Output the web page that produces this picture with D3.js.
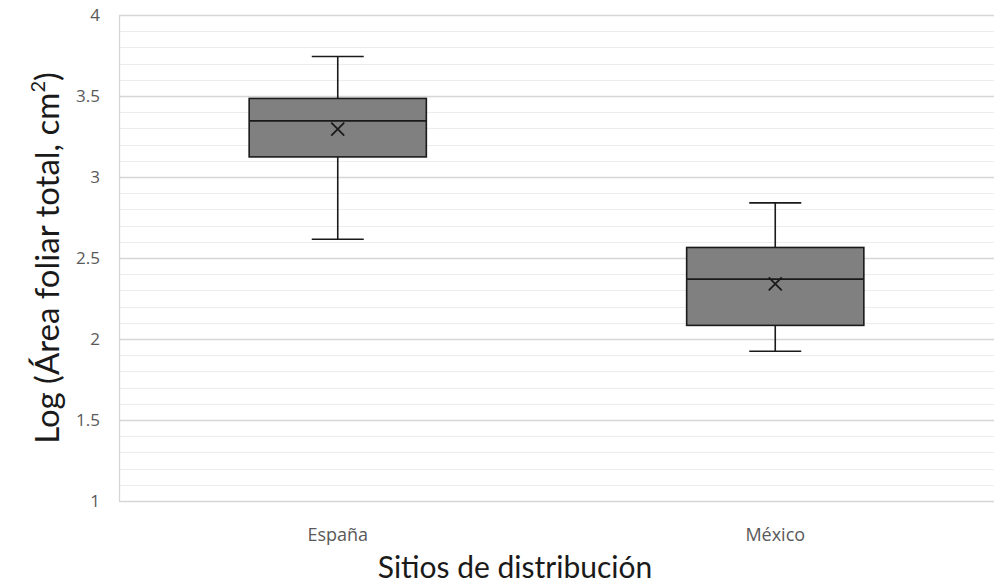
<!DOCTYPE html>
<html>
<head>
<meta charset="utf-8">
<script src="https://cdn.jsdelivr.net/npm/d3@7"></script>
<style>
  body { margin: 0; background: #fff; }
  svg { display: block; font-family: Lato, 'Liberation Sans', sans-serif; }
</style>
</head>
<body>
<div id="chart"></div>
<script>
// Data
const sites = ['España', 'México'];
const whiskerLow = [2.616, 1.924];
const q1 = [3.124, 2.084];
const median = [3.347, 2.37];
const q3 = [3.485, 2.565];
const whiskerHigh = [3.744, 2.84];
const means = [3.296, 2.34];
const yTicks = [1, 1.5, 2, 2.5, 3, 3.5, 4];

const width = 994, height = 585;
const margins = { top: 15, right: 0, bottom: 84, left: 119 };

const svg = d3.select('#chart').append('svg')
    .attr('width', width)
    .attr('height', height);

const plotWidth = width - margins.left - margins.right;
const plotHeight = height - margins.top - margins.bottom;

const plotArea = svg.append('g')
    .attr('transform', `translate(${margins.left},${margins.top})`);

const xScale = d3.scaleBand()
    .domain(sites)
    .range([0, plotWidth]);

const yScale = d3.scaleLinear()
    .domain([1, 4])
    .range([plotHeight, 0]);

// minor gridlines every 0.1
const minor = d3.range(10, 41).map(d => d / 10).filter(d => Math.abs(d * 2 - Math.round(d * 2)) > 1e-6);
plotArea.append('g')
    .selectAll('line')
    .data(minor)
    .join('line')
    .attr('x1', 0)
    .attr('x2', plotWidth)
    .attr('y1', d => Math.round(yScale(d)) + 0.5)
    .attr('y2', d => Math.round(yScale(d)) + 0.5)
    .style('stroke', '#ededed')
    .style('stroke-width', '1px');

// major gridlines
plotArea.append('g')
    .selectAll('line')
    .data(yTicks)
    .join('line')
    .attr('x1', 0)
    .attr('x2', plotWidth)
    .attr('y1', d => Math.round(yScale(d)) + 0.5)
    .attr('y2', d => Math.round(yScale(d)) + 0.5)
    .style('stroke', '#d6d6d6')
    .style('stroke-width', '1.3px');

// left axis line
plotArea.append('line')
    .attr('x1', 0.5).attr('x2', 0.5)
    .attr('y1', 0).attr('y2', plotHeight)
    .style('stroke', '#d6d6d6')
    .style('stroke-width', '1.3px');

// y axis tick labels
const yAxis = plotArea.append('g')
    .call(d3.axisLeft(yScale)
        .tickValues(yTicks)
        .tickSize(0)
        .tickPadding(19)
        .tickFormat(d => d));
yAxis.select('.domain').remove();
yAxis.selectAll('text')
    .style('font-size', '17px')
    .style('font-family', "'Open Sans', sans-serif")
    .style('fill', '#595959');

// x axis labels
const xAxis = plotArea.append('g')
    .attr('transform', `translate(0,${plotHeight})`)
    .call(d3.axisBottom(xScale).tickSize(0).tickPadding(27));
xAxis.select('.domain').remove();
xAxis.selectAll('text')
    .style('font-size', '18px')
    .style('font-family', "'Open Sans', sans-serif")
    .style('fill', '#595959');

// boxes
const boxW = xScale.bandwidth() * 0.405;
const capW = 52;
const boxes = plotArea.selectAll('.box')
    .data(sites.map((s, i) => ({ s, i })))
    .join('g')
    .attr('class', 'box')
    .attr('transform', d => `translate(${xScale(d.s) + xScale.bandwidth() / 2},0)`);

boxes.append('line')
    .attr('x1', 0).attr('x2', 0)
    .attr('y1', d => yScale(whiskerLow[d.i]))
    .attr('y2', d => yScale(whiskerHigh[d.i]))
    .style('stroke', '#1a1a1a').style('stroke-width', '1.6px');

boxes.selectAll('.cap')
    .data(d => [whiskerLow[d.i], whiskerHigh[d.i]])
    .join('line')
    .attr('class', 'cap')
    .attr('x1', -capW / 2).attr('x2', capW / 2)
    .attr('y1', d => yScale(d)).attr('y2', d => yScale(d))
    .style('stroke', '#1a1a1a').style('stroke-width', '1.6px');

boxes.append('rect')
    .attr('x', -boxW / 2)
    .attr('width', boxW)
    .attr('y', d => yScale(q3[d.i]))
    .attr('height', d => yScale(q1[d.i]) - yScale(q3[d.i]))
    .style('fill', '#808080')
    .style('stroke', '#1a1a1a').style('stroke-width', '1.6px');

boxes.append('line')
    .attr('x1', -boxW / 2).attr('x2', boxW / 2)
    .attr('y1', d => yScale(median[d.i])).attr('y2', d => yScale(median[d.i]))
    .style('stroke', '#1a1a1a').style('stroke-width', '1.8px');

// mean markers
boxes.append('path')
    .attr('d', d => {
        const y = yScale(means[d.i]), r = 6.5;
        return `M${-r},${y - r}L${r},${y + r}M${-r},${y + r}L${r},${y - r}`;
    })
    .style('stroke', '#1a1a1a').style('stroke-width', '1.8px')
    .style('fill', 'none');

// axis titles
svg.append('text')
    .attr('text-anchor', 'middle')
    .attr('x', 515)
    .attr('y', 578)
    .style('font-size', '30px')
    .style('fill', '#1a1a1a')
    .text('Sitios de distribución');

const yTitle = svg.append('text')
    .attr('text-anchor', 'middle')
    .attr('transform', 'translate(59,258) rotate(-90)')
    .style('font-size', '33px')
    .style('fill', '#1a1a1a');
yTitle.append('tspan').text('Log (Área foliar total, cm');
yTitle.append('tspan').attr('dy', -14).style('font-size', '20px').text('2');
yTitle.append('tspan').attr('dy', 14).text(')');
</script>
</body>
</html>
